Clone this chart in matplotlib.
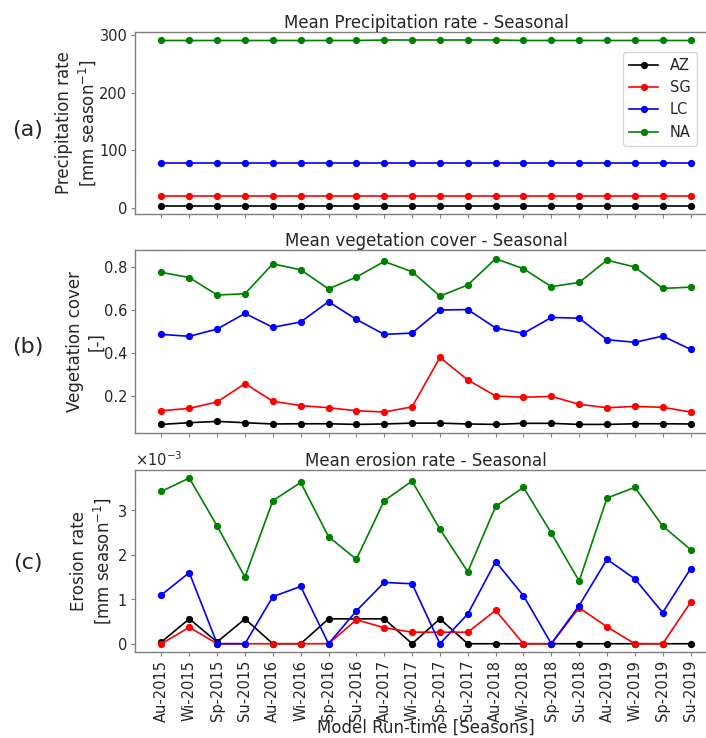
import numpy as np
import matplotlib
matplotlib.use("Agg")
import matplotlib.pyplot as plt
from matplotlib.ticker import ScalarFormatter

# Seasons
seasons = ["Au-2015", "Wi-2015", "Sp-2015", "Su-2015",
           "Au-2016", "Wi-2016", "Sp-2016", "Su-2016",
           "Au-2017", "Wi-2017", "Sp-2017", "Su-2017",
           "Au-2018", "Wi-2018", "Sp-2018", "Su-2018",
           "Au-2019", "Wi-2019", "Sp-2019", "Su-2019"]

sites = ["AZ", "SG", "LC", "NA"]
colors = ["black", "red", "blue", "green"]

# (a) Niederschlag [mm/season]
precip_AZ = [3.5] * 20
precip_SG = [20.3] * 20
precip_LC = [78.7] * 20
precip_NA = [291.0, 291.0, 291.0, 291.0, 291.0, 291.0, 291.0, 291.0, 291.8, 291.8,
             291.8, 291.8, 291.8, 291.0, 291.0, 291.0, 291.0, 291.0, 291.0, 291.0]

# (b) Vegetationsbedeckung [-]
veg_AZ = [0.066, 0.074, 0.080, 0.074, 0.068, 0.069, 0.069, 0.066, 0.068, 0.072,
          0.072, 0.068, 0.066, 0.071, 0.071, 0.066, 0.066, 0.069, 0.069, 0.068]
veg_SG = [0.130, 0.141, 0.171, 0.257, 0.174, 0.154, 0.144, 0.130, 0.124, 0.148,
          0.379, 0.274, 0.199, 0.193, 0.197, 0.160, 0.144, 0.150, 0.146, 0.124]
veg_LC = [0.487, 0.478, 0.512, 0.585, 0.520, 0.545, 0.640, 0.557, 0.487, 0.493,
          0.601, 0.603, 0.517, 0.492, 0.566, 0.563, 0.462, 0.450, 0.479, 0.417]
veg_NA = [0.777, 0.753, 0.671, 0.677, 0.817, 0.789, 0.700, 0.755, 0.828, 0.780,
          0.666, 0.718, 0.841, 0.794, 0.710, 0.730, 0.834, 0.802, 0.702, 0.708]

# (c) Erosion [mm/season], in units of 1e-3
eros_AZ = [0.04, 0.56, 0.04, 0.56, 0.0, 0.0, 0.56, 0.56, 0.56, 0.0,
           0.56, 0.0, 0.0, 0.0, 0.0, 0.0, 0.0, 0.0, 0.0, 0.0]
eros_SG = [0.0, 0.37, 0.0, 0.0, 0.0, 0.0, 0.0, 0.54, 0.36, 0.26,
           0.26, 0.26, 0.75, 0.0, 0.0, 0.81, 0.38, 0.0, 0.0, 0.93]
eros_LC = [1.10, 1.60, 0.0, 0.0, 1.06, 1.29, 0.0, 0.74, 1.38, 1.35,
           0.0, 0.67, 1.85, 1.08, 0.0, 0.86, 1.90, 1.46, 0.70, 1.69]
eros_NA = [3.43, 3.73, 2.65, 1.50, 3.22, 3.63, 2.41, 1.90, 3.22, 3.66,
           2.58, 1.62, 3.09, 3.52, 2.49, 1.41, 3.28, 3.52, 2.65, 2.12]

plt.rcParams['font.size'] = 10.5
plt.rcParams['axes.edgecolor'] = '#7f7f7f'
plt.rcParams['xtick.color'] = '#7f7f7f'
plt.rcParams['ytick.color'] = '#7f7f7f'
plt.rcParams['xtick.labelcolor'] = '#262626'
plt.rcParams['ytick.labelcolor'] = '#262626'
plt.rcParams['text.color'] = '#262626'
plt.rcParams['axes.labelcolor'] = '#262626'

fig = plt.figure(figsize=(7.06, 7.38), dpi=100)
left, width, height = 0.1912, 0.8244, 0.247
ax_a = fig.add_axes([left, 0.710, width, height])
ax_b = fig.add_axes([left, 0.4137, width, height])
ax_c = fig.add_axes([left, 0.1165, width, height])

x = np.arange(len(seasons))
panels = [
    (ax_a, [precip_AZ, precip_SG, precip_LC, precip_NA], 1.0,
     "Mean Precipitation rate - Seasonal", "Precipitation rate\n[mm season$^{-1}$]", -0.0636),
    (ax_b, [veg_AZ, veg_SG, veg_LC, veg_NA], 1.0,
     "Mean vegetation cover - Seasonal", "Vegetation cover\n[-]", -0.0515),
    (ax_c, [eros_AZ, eros_SG, eros_LC, eros_NA], 1e-3,
     "Mean erosion rate - Seasonal", "Erosion rate\n[mm season$^{-1}$]", -0.037),
]

for ax, series, scale, title, ylabel, lx in panels:
    for name, vals, col in zip(sites, series, colors):
        ax.plot(x, np.array(vals) * scale, '-o', color=col, label=name,
                markersize=4.2, linewidth=1.2)
    ax.set_title(title, fontsize=12, pad=3)
    ax.set_ylabel(ylabel, fontsize=12)
    ax.yaxis.set_label_coords(lx, 0.5)
    ax.set_xticks(x)
    ax.tick_params(labelsize=10.5, length=3, pad=2.5)
    for s in ax.spines.values():
        s.set_linewidth(1.0)

ax_a.set_yticks([0, 100, 200, 300])
ax_b.set_yticks([0.2, 0.4, 0.6, 0.8])
ax_a.set_xticklabels([])
ax_b.set_xticklabels([])
ax_c.set_xticklabels(seasons, rotation=90)
ax_c.set_xlabel("Model Run-time [Seasons]", fontsize=12, labelpad=-2)

fmt = ScalarFormatter(useMathText=True)
fmt.set_powerlimits((0, 0))
ax_c.yaxis.set_major_formatter(fmt)
ax_c.set_yticks([0, 1e-3, 2e-3, 3e-3])
ax_c.yaxis.get_offset_text().set_fontsize(10.5)

ax_a.legend(loc='upper right', bbox_to_anchor=(0.987, 0.9295),
            bbox_transform=fig.transFigure, borderaxespad=0, fontsize=10.5)

# Panelbeschriftungen
for lab, yy in [("(a)", 130), ("(b)", 347), ("(c)", 563)]:
    fig.text(28 / 706, 1 - yy / 738, lab, fontsize=16, ha='center', va='center')

fig.savefig("out.png", dpi=100)
